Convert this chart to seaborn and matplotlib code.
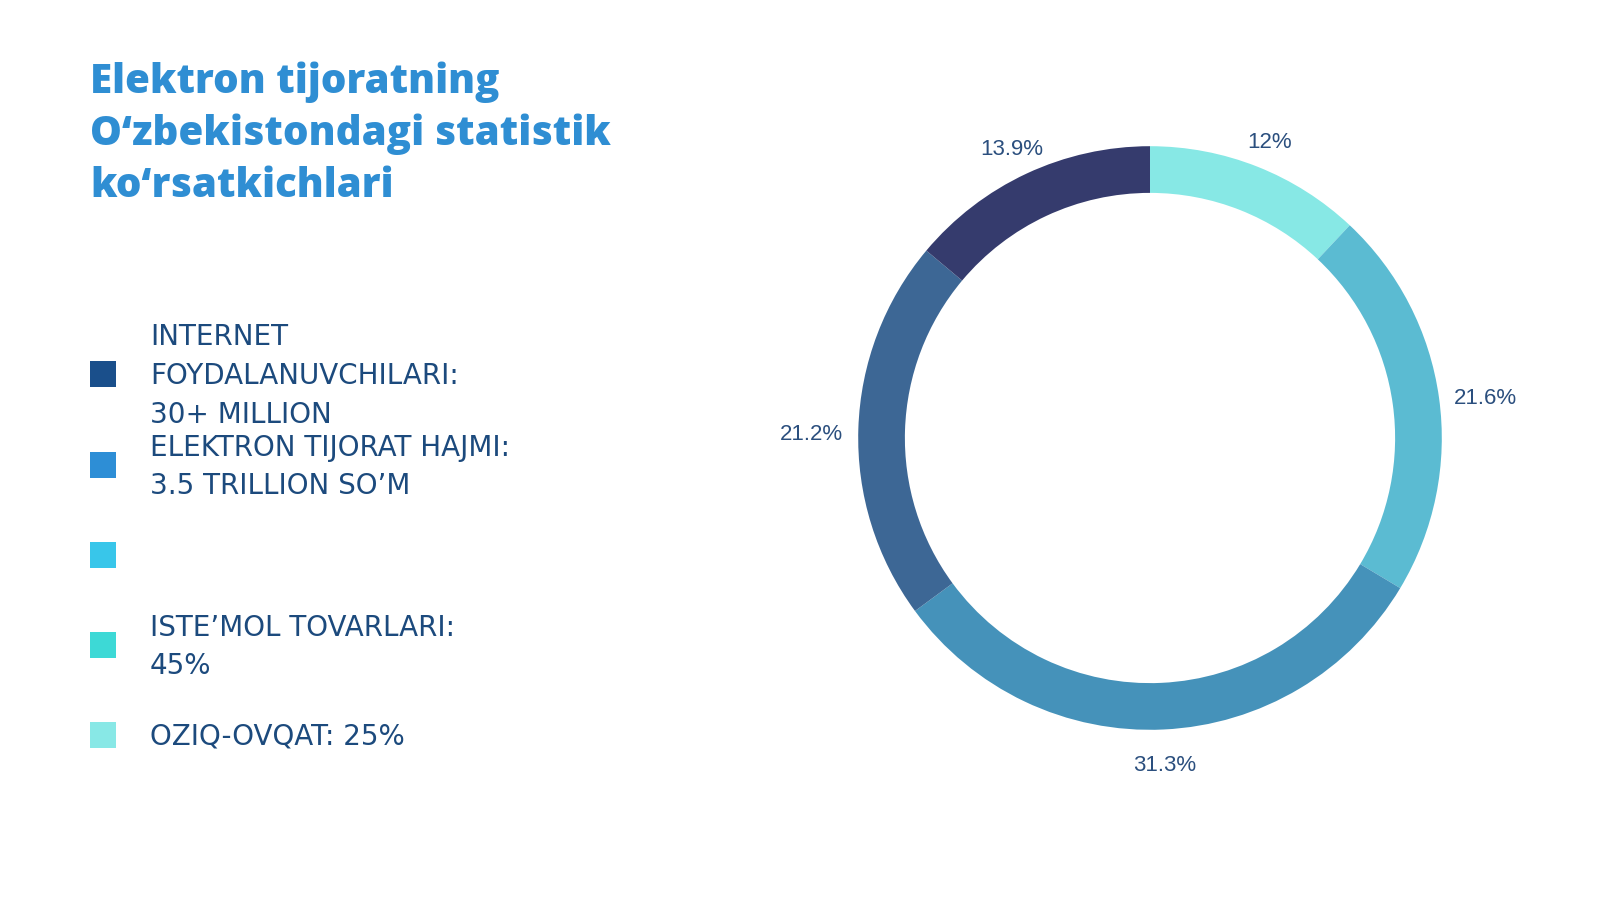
import matplotlib
matplotlib.use("Agg")
import numpy as np
import matplotlib.pyplot as plt
from matplotlib.patches import Rectangle
import seaborn as sns

# donut data (clockwise from top)
shares = [12.0, 21.6, 31.3, 21.2, 13.9]
ring_colors = ["#87E8E5", "#5BBBD2", "#4592BA", "#3D6795", "#353B6D"]

# legend on the left
legend_labels = [
    "INTERNET\nFOYDALANUVCHILARI:\n30+ MILLION",
    "ELEKTRON TIJORAT HAJMI:\n3.5 TRILLION SO\u2019M",
    "",
    "ISTE\u2019MOL TOVARLARI:\n45%",
    "OZIQ-OVQAT: 25%",
]
legend_colors = ["#1A4F8B", "#2D8ED6", "#38C6EA", "#3DD9D6", "#88E8E6"]

title = "Elektron tijoratning\nO\u2018zbekistondagi statistik\nko\u2018rsatkichlari"

sns.set_theme(style="white")
plt.rcParams["font.family"] = ["DejaVu Sans"]

fig = plt.figure(figsize=(16, 9), dpi=100)
fig.patch.set_facecolor("white")

# left side, pixel coordinates
ax_txt = fig.add_axes([0, 0, 1, 1])
ax_txt.set_xlim(0, 1600)
ax_txt.set_ylim(900, 0)
ax_txt.axis("off")

ax_txt.text(90, 134, title, ha="left", va="center", fontsize=29,
            fontweight="heavy", family=["Open Sans", "DejaVu Sans"],
            color="#2F8ED3", linespacing=1.34)

legend_y = [374, 465, 555, 645, 735]
for lab, col, y in zip(legend_labels, legend_colors, legend_y):
    ax_txt.add_patch(Rectangle((90, y - 13), 26, 26, color=col, lw=0))
    if lab:
        ax_txt.text(150, y + 2, lab, ha="left", va="center", fontsize=20,
                    color="#1C4A7D", linespacing=1.5)

# donut chart
cx, cy, half = 1150, 462, 356
ax = fig.add_axes([(cx - half) / 1600, (cy - half) / 900, 2 * half / 1600, 2 * half / 900])


def fmt(p):
    s = f"{p:.1f}"
    if s.endswith(".0"):
        s = s[:-2]
    return s + "%"


wedges, _, pcts = ax.pie(
    shares, colors=ring_colors, startangle=90, counterclock=False,
    radius=1.0, wedgeprops=dict(width=0.16, linewidth=0),
    autopct=fmt, pctdistance=1.12,
    textprops=dict(fontsize=16, color="#2B4F7E", family=["Liberation Sans", "DejaVu Sans"]),
)
ax.set_xlim(-1.22, 1.22)
ax.set_ylim(-1.22, 1.22)
ax.set_aspect("equal")
ax.axis("off")

# push the side labels a bit further out, like the original
for w, t in zip(wedges, pcts):
    th = np.deg2rad((w.theta1 + w.theta2) / 2)
    d = 1.09 + 0.07 * abs(np.cos(th)) + 0.005 * max(0.0, -np.sin(th))
    t.set_position((d * np.cos(th), d * np.sin(th) - 0.025))

fig.savefig("out.png", dpi=100, facecolor="white")
